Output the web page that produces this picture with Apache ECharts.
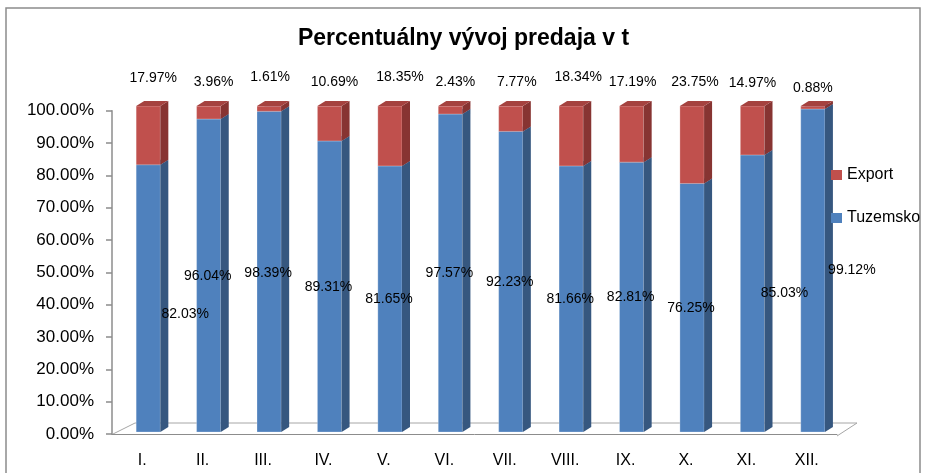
<!DOCTYPE html>
<html><head><meta charset="utf-8">
<script src="https://cdn.jsdelivr.net/npm/echarts@6/dist/echarts.min.js"></script>
<style>html,body{margin:0;padding:0;background:#fff}#c{width:927px;height:473px}</style>
</head><body><div id="c"></div>
<script>
// ---- data ----
const months = ['I.', 'II.', 'III.', 'IV.', 'V.', 'VI.', 'VII.', 'VIII.', 'IX.', 'X.', 'XI.', 'XII.'];
const tuzemsko = [82.03, 96.04, 98.39, 89.31, 81.65, 97.57, 92.23, 81.66, 82.81, 76.25, 85.03, 99.12];
const exportVals = [17.97, 3.96, 1.61, 10.69, 18.35, 2.43, 7.77, 18.34, 17.19, 23.75, 14.97, 0.88];
const yTickValues = [0, 10, 20, 30, 40, 50, 60, 70, 80, 90, 100];

// ---- label layout (manual label placement of the original) ----
const exportLabelDx = [5, 5, 1, 5, 10, 5, 6, 7, 1, 3, 0, 0];
const exportLabelDy = [-28, -24, -29, -24, -29, -24, -24, -29, -24, -24, -23, -18];
const domesticLabelDx = [37, -1, -1, -1, -1, -1, -1, -1, -1, -1, 32, 39];
const domesticLabelDy = [16, 1, 1, 1, 0, 0, 0, 0, 0, 0, 0, 0];

const pct = v => v.toFixed(2) + '%';
const LABEL_FONT = '14px "Liberation Sans"';

const palBlue = { front: '#4F81BD', side: '#36577F', top: '#4674AA' };
const palRed = { front: '#C0504D', side: '#873432', top: '#A5423F' };

function make3D(api, i, base, top, pal) {
  const c0 = api.coord([i, 0]);
  const cb = api.coord([i, base]);
  const ct = api.coord([i, top]);
  const bw = api.size([1, 0])[0];
  const y0 = c0[1];
  const adj = y => y0 - 2 - (y0 - y) * 1.008;
  const yb = adj(cb[1]), yt = adj(ct[1]);
  const left = cb[0] - 0.1 * bw, right = cb[0] + 0.3 * bw;
  const dx = 8, dy = -5;
  return {
    geom: { left, right, yb, yt, cx: (left + right) / 2 },
    children: [
      { type: 'rect', shape: { x: left, y: yt, width: right - left, height: yb - yt },
        style: { fill: pal.front, stroke: 'rgba(255,255,255,0.25)', lineWidth: 1 } },
      { type: 'polygon', shape: { points: [[right, yb], [right + dx, yb + dy], [right + dx, yt + dy], [right, yt]] },
        style: { fill: pal.side } },
      { type: 'polygon', shape: { points: [[left, yt], [left + dx, yt + dy], [right + dx, yt + dy], [right, yt]] },
        style: { fill: pal.top } }
    ]
  };
}

function textEl(text, x, y) {
  return { type: 'text', z2: 100, style: { text, x, y, font: LABEL_FONT, fill: '#000',
    align: 'center', verticalAlign: 'middle', textAlign: 'center', textVerticalAlign: 'middle' } };
}

const chart = echarts.init(document.getElementById('c'));
chart.setOption({
  animation: false,
  backgroundColor: '#fff',
  title: {
    text: 'Percentuálny vývoj predaja v t', left: 'center', top: 27, padding: 0,
    textStyle: { fontFamily: 'Liberation Sans', fontWeight: 'bold', fontSize: 23, color: '#000' }
  },
  legend: {
    data: ['Export', 'Tuzemsko'], orient: 'vertical', left: 831, top: 167,
    icon: 'rect', itemWidth: 11, itemHeight: 10, itemGap: 27, padding: 0,
    textStyle: { fontFamily: 'Liberation Sans', fontSize: 16, color: '#000' }
  },
  grid: { left: 112, right: 90, top: 110.7, bottom: 39, containLabel: false },
  xAxis: {
    type: 'category', data: months, offset: 2,
    axisLine: { lineStyle: { color: '#8c8c8c', width: 1 } },
    axisTick: { length: 5, lineStyle: { color: '#8c8c8c' } },
    axisLabel: { margin: 17, fontFamily: 'Liberation Sans', fontSize: 16, color: '#000' },
    splitLine: { show: false }
  },
  yAxis: {
    type: 'value', min: 0, max: 100, interval: 10,
    axisLine: { show: true, lineStyle: { color: '#8c8c8c', width: 1.5 } },
    axisTick: { show: true, length: 6, lineStyle: { color: '#8c8c8c', width: 1.5 } },
    axisLabel: { margin: 18, fontFamily: 'Liberation Sans', fontSize: 17, color: '#000',
      formatter: v => yTickValues.indexOf(v) >= 0 ? pct(v) : '' },
    splitLine: { show: false }
  },
  graphic: [
    { type: 'rect', silent: true, shape: { x: 6, y: 8, width: 914, height: 480 },
      style: { fill: 'none', stroke: '#8c8c8c', lineWidth: 1.5 } },
    { type: 'polyline', silent: true, shape: { points: [[113, 434], [135, 423], [857, 423], [837, 436]] },
      style: { stroke: '#a6a6a6', lineWidth: 1, fill: 'none' } }
  ],
  series: [
    {
      name: 'Tuzemsko', type: 'custom', clip: false,
      itemStyle: { color: palBlue.front },
      data: tuzemsko.map((v, i) => [i, v]),
      encode: { x: 0, y: 1 },
      renderItem: (params, api) => {
        const i = api.value(0), v = api.value(1);
        const b = make3D(api, i, 0, v, palBlue);
        const g = b.geom;
        const lx = g.cx + domesticLabelDx[i];
        const ly = (g.yb + g.yt) / 2 + domesticLabelDy[i];
        return { type: 'group', children: b.children.concat([textEl(pct(v), lx, ly)]) };
      }
    },
    {
      name: 'Export', type: 'custom', clip: false,
      itemStyle: { color: palRed.front },
      data: exportVals.map((v, i) => [i, tuzemsko[i], tuzemsko[i] + v, v]),
      encode: { x: 0, y: 2 },
      renderItem: (params, api) => {
        const i = api.value(0), base = api.value(1), top = api.value(2), v = api.value(3);
        const b = make3D(api, i, base, top, palRed);
        const g = b.geom;
        const lx = g.cx + exportLabelDx[i];
        const ly = g.yt + exportLabelDy[i];
        return { type: 'group', children: b.children.concat([textEl(pct(v), lx, ly)]) };
      }
    }
  ]
});
</script>
</body></html>
